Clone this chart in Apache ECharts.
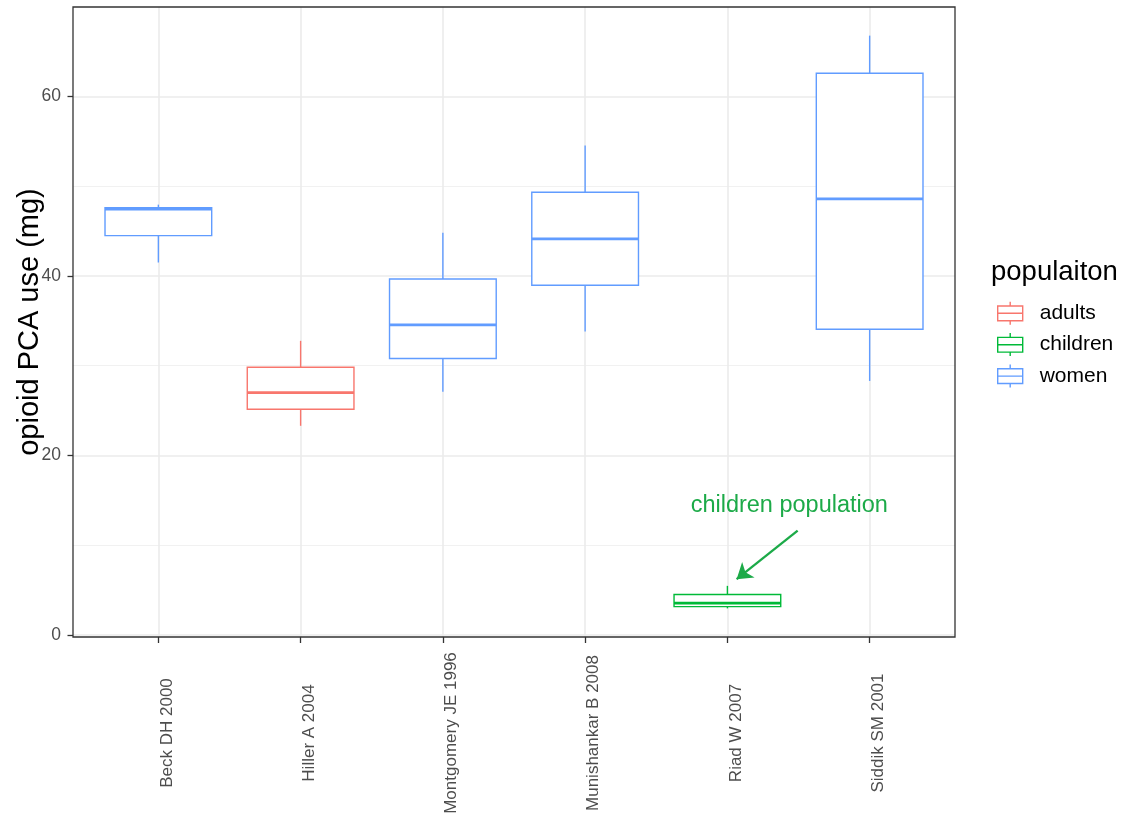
<!DOCTYPE html>
<html>
<head>
<meta charset="utf-8">
<script src="https://cdn.jsdelivr.net/npm/echarts@6/dist/echarts.min.js"></script>
<style>
html,body{margin:0;padding:0;background:#fff;}
#chart{width:1130px;height:818px;}
</style>
</head>
<body>
<div id="chart"></div>
<script>
// ---- data ----
const categories = ['Beck DH 2000', 'Hiller A 2004', 'Montgomery JE 1996', 'Munishankar B 2008', 'Riad W 2007', 'Siddik SM 2001'];
const population = ['women', 'adults', 'women', 'women', 'children', 'women'];
const lowerWhisker = [41.5, 23.3, 27.1, 33.8, 2.95, 28.3];
const q1Values     = [44.5, 25.15, 30.8, 38.97, 3.15, 34.07];
const medianValues = [47.45, 27.0, 34.55, 44.13, 3.53, 48.59];
const q3Values     = [47.6, 29.83, 39.67, 49.34, 4.49, 62.6];
const upperWhisker = [47.95, 32.77, 44.83, 54.53, 5.46, 66.79];
const groups = ['adults', 'children', 'women'];
const groupColors = ['#F8766D', '#00BA38', '#619CFF'];
const yTicks = [0, 20, 40, 60];
const yMinorTicks = [10, 30, 50];
const annotationText = 'children population';
const annotationPos = [4.435, 14.37];
const arrowFrom = [4.494, 11.62];
const arrowTo = [4.065, 6.21];

const FONT = '"Liberation Sans", Arial, Helvetica, sans-serif';
const BOX_W = 0.75;
const annotColor = '#1CAA48';

function renderBox(params, api) {
  const x = api.value(0);
  const lo = api.coord([x, api.value(1)]);
  const q1 = api.coord([x, api.value(2)]);
  const md = api.coord([x, api.value(3)]);
  const q3 = api.coord([x, api.value(4)]);
  const hi = api.coord([x, api.value(5)]);
  const w = api.size([BOX_W, 0])[0];
  const color = api.visual('color');
  const lw = 1.4;
  return {
    type: 'group',
    children: [
      {type: 'line', shape: {x1: hi[0], y1: hi[1], x2: q3[0], y2: q3[1]}, style: {stroke: color, lineWidth: lw}},
      {type: 'line', shape: {x1: q1[0], y1: q1[1], x2: lo[0], y2: lo[1]}, style: {stroke: color, lineWidth: lw}},
      {type: 'rect', shape: {x: q3[0] - w / 2, y: q3[1], width: w, height: q1[1] - q3[1]}, style: {fill: '#ffffff', stroke: color, lineWidth: lw}},
      {type: 'line', shape: {x1: md[0] - w / 2, y1: md[1], x2: md[0] + w / 2, y2: md[1]}, style: {stroke: color, lineWidth: 2.8}}
    ]
  };
}

const boxSeries = groups.map(function (g, gi) {
  const data = [];
  categories.forEach(function (c, i) {
    if (population[i] === g) {
      data.push([i, lowerWhisker[i], q1Values[i], medianValues[i], q3Values[i], upperWhisker[i]]);
    }
  });
  return {
    name: g,
    type: 'custom',
    xAxisIndex: 0,
    yAxisIndex: 0,
    renderItem: renderBox,
    itemStyle: {color: groupColors[gi]},
    encode: {x: 0, y: [1, 2, 3, 4, 5]},
    data: data,
    z: 2,
    silent: true
  };
});

const legendIcon = 'path://M12.5,0V4.3M0,4.3H25V19H0ZM0,11.6H25M12.5,19V23';
const catIndex = categories.map(function (c, i) { return i; });

const option = {
  animation: false,
  backgroundColor: '#ffffff',
  textStyle: {fontFamily: FONT},
  title: {
    text: 'populaiton',
    left: 991,
    top: 258,
    padding: 0,
    textStyle: {fontFamily: FONT, fontSize: 27.5, fontWeight: 'normal', color: '#000000'}
  },
  legend: {
    orient: 'vertical',
    left: 997,
    top: 301,
    padding: 0,
    itemWidth: 25,
    itemHeight: 23,
    itemGap: 7,
    selectedMode: false,
    textStyle: {fontFamily: FONT, fontSize: 21, color: '#000000', padding: [0, 0, 0, 12]},
    data: groups.map(function (g, gi) {
      return {
        name: g,
        icon: legendIcon,
        itemStyle: {color: '#ffffff', borderColor: groupColors[gi], borderWidth: 1.4}
      };
    })
  },
  grid: {
    left: 73,
    top: 7,
    width: 882,
    height: 630,
    show: true,
    containLabel: false,
    outerBoundsMode: 'none',
    backgroundColor: 'transparent',
    borderColor: '#333333',
    borderWidth: 1.3,
    z: 3
  },
  xAxis: [{
    type: 'value',
    gridIndex: 0,
    position: 'bottom',
    min: -0.6,
    max: 5.6,
    axisLine: {show: false, onZero: false},
    axisTick: {show: true, length: 6, customValues: catIndex, lineStyle: {color: '#333333', width: 1.3}},
    axisLabel: {
      show: true,
      customValues: catIndex,
      formatter: function (v) { return categories[Math.round(v)]; },
      rotate: 90,
      align: 'center',
      verticalAlign: 'top',
      margin: 96,
      fontFamily: FONT,
      fontSize: 17,
      color: '#4D4D4D'
    },
    splitLine: {show: true, lineStyle: {color: '#EBEBEB', width: 1.6}}
  }],
  yAxis: [{
    type: 'value',
    gridIndex: 0,
    position: 'left',
    min: -0.24,
    max: 69.98,
    name: 'opioid PCA use (mg)',
    nameLocation: 'middle',
    nameGap: 29,
    nameMoveOverlap: false,
    nameTextStyle: {fontFamily: FONT, fontSize: 29, color: '#000000'},
    axisLine: {show: false, onZero: false},
    axisTick: {show: true, length: 5.5, customValues: yTicks, lineStyle: {color: '#333333', width: 1.3}},
    axisLabel: {show: true, customValues: yTicks, margin: 12, fontFamily: FONT, fontSize: 17.5, color: '#4D4D4D'},
    splitLine: {show: true, lineStyle: {color: '#EBEBEB', width: 1.6}},
    z: 1
  }, {
    type: 'value',
    gridIndex: 0,
    position: 'left',
    offset: 0,
    min: -0.24,
    max: 69.98,
    axisLine: {show: false, onZero: false},
    axisTick: {show: false, customValues: yMinorTicks},
    axisLabel: {show: false},
    splitLine: {show: true, lineStyle: {color: '#F1F1F1', width: 1}},
    z: 0
  }],
  series: boxSeries.concat([{
    name: 'annotation',
    type: 'scatter',
    xAxisIndex: 0,
    yAxisIndex: 0,
    symbolSize: 0,
    silent: true,
    itemStyle: {opacity: 1, color: annotColor},
    data: [annotationPos],
    label: {
      show: true,
      position: 'inside',
      formatter: annotationText,
      fontFamily: FONT,
      fontSize: 23.5,
      color: annotColor,
      opacity: 1,
      textBorderWidth: 0,
      textBorderColor: 'transparent'
    },
    markLine: {
      silent: true,
      symbol: ['none', 'arrow'],
      symbolSize: 15,
      label: {show: false},
      lineStyle: {color: annotColor, width: 2.3, type: 'solid', opacity: 1},
      emphasis: {disabled: true},
      data: [[{coord: arrowFrom}, {coord: arrowTo}]]
    },
    z: 4
  }])
};

const chart = echarts.init(document.getElementById('chart'), null, {renderer: 'canvas'});
chart.setOption(option);
</script>
</body>
</html>
